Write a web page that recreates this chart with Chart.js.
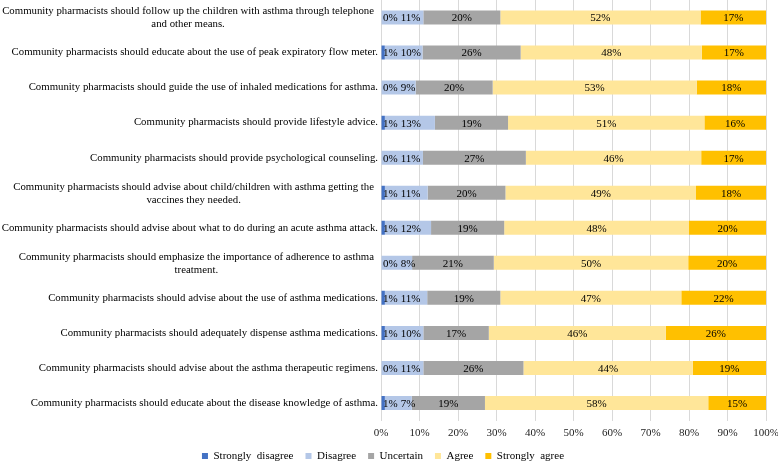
<!DOCTYPE html>
<html>
<head>
<meta charset="utf-8">
<script src="https://cdn.jsdelivr.net/npm/chart.js@4.4.1/dist/chart.umd.min.js"></script>
<style>
  html, body { margin: 0; padding: 0; background: #fff; }
  #wrap { width: 778px; height: 462px; position: relative; }
</style>
</head>
<body>
<div id="wrap"><canvas id="chart"></canvas></div>
<script>
// statements, top to bottom (two-line ones are wrapped like in the original)
const statements = [
  ['Community pharmacists should follow up the children with asthma through telephone', 'and other means.'],
  'Community pharmacists should educate about the use of peak expiratory flow meter.',
  'Community pharmacists should guide the use of inhaled medications for asthma.',
  'Community pharmacists should provide lifestyle advice.',
  'Community pharmacists should provide psychological counseling.',
  ['Community pharmacists should advise about child/children with asthma getting the', 'vaccines they needed.'],
  'Community pharmacists should advise about what to do during an acute asthma attack.',
  ['Community pharmacists should emphasize the importance of adherence to asthma', 'treatment.'],
  'Community pharmacists should advise about the use of asthma medications.',
  'Community pharmacists should adequately dispense asthma medications.',
  'Community pharmacists should advise about the asthma therapeutic regimens.',
  'Community pharmacists should educate about the disease knowledge of asthma.'
];

const seriesNames = ['Strongly  disagree', 'Disagree', 'Uncertain', 'Agree', 'Strongly  agree'];
const seriesColors = ['#4472C4', '#B4C7E7', '#A5A5A5', '#FFE699', '#FFC000'];

const stronglyDisagree = [0, 1, 0, 1, 0, 1, 1, 0, 1, 1, 0, 1];
const disagree         = [11, 10, 9, 13, 11, 11, 12, 8, 11, 10, 11, 7];
const uncertain        = [20, 26, 20, 19, 27, 20, 19, 21, 19, 17, 26, 19];
const agree            = [52, 48, 53, 51, 46, 49, 48, 50, 47, 46, 44, 58];
const stronglyAgree    = [17, 17, 18, 16, 17, 18, 20, 20, 22, 26, 19, 15];

const xTicks = [0, 10, 20, 30, 40, 50, 60, 70, 80, 90, 100];

const allSeries = [stronglyDisagree, disagree, uncertain, agree, stronglyAgree];

// 100% stacked, like the spreadsheet: each row is scaled to its own total
const rowTotals = statements.map((_, i) => allSeries.reduce((s, arr) => s + arr[i], 0));

const serif = "'Liberation Serif','Times New Roman',serif";

const datasets = allSeries.map((arr, k) => ({
  label: seriesNames[k],
  data: arr.map((v, i) => v / rowTotals[i] * 100),
  raw: arr,
  backgroundColor: seriesColors[k],
  borderWidth: 0,
  barPercentage: 0.8,
  categoryPercentage: 0.5
}));

new Chart(document.getElementById('chart'), {
  type: 'bar',
  data: { labels: statements.map((s, i) => String(i)), datasets },
  options: {
    indexAxis: 'y',
    responsive: true, maintainAspectRatio: false,
    animation: false,
    layout: { padding: { top: 0, right: 12, bottom: -9.5, left: 0 } },
    plugins: {
      tooltip: { enabled: false },
      legend: {
        position: 'bottom',
        labels: { font: { family: serif, size: 11 }, color: '#000', boxWidth: 6, boxHeight: 6, padding: 12 }
      }
    },
    scales: {
      x: {
        stacked: true, min: 0, max: 100,
        afterBuildTicks: s => { s.ticks = xTicks.map(v => ({ value: v })); },
        afterFit: s => { s.height = 18; s.paddingRight = 0; s.paddingLeft = 0; },
        ticks: { callback: v => v + '%', font: { family: serif, size: 11 }, color: '#222', padding: 6, maxRotation: 0 },
        grid: { color: '#D9D9D9', drawTicks: false, tickLength: 0 },
        border: { display: false }
      },
      y: {
        stacked: true,
        afterFit: s => { s.width = 381; },
        ticks: { display: false },
        grid: { display: false },
        border: { display: false }
      }
    }
  },
  plugins: [{
    id: 'rowLabels',
    afterDraw(chart) {
      const ctx = chart.ctx;
      const ys = chart.scales.y;
      ctx.save();
      ctx.font = "10.8px " + serif;
      ctx.fillStyle = '#000';
      ctx.textBaseline = 'middle';
      statements.forEach((s, i) => {
        const y = ys.getPixelForValue(i);
        if (Array.isArray(s)) {
          const xr = 374;
          const w1 = ctx.measureText(s[0]).width;
          ctx.textAlign = 'right';
          ctx.fillText(s[0], xr, y - 6);
          ctx.textAlign = 'center';
          ctx.fillText(s[1], xr - w1 / 2, y + 7);
        } else {
          ctx.textAlign = 'right';
          ctx.fillText(s, 378, y);
        }
      });
      ctx.restore();
    }
  }, {
    id: 'segLabels',
    afterDatasetsDraw(chart) {
      const ctx = chart.ctx;
      const left = chart.chartArea.left;
      ctx.save();
      ctx.font = "11px " + serif;
      ctx.fillStyle = '#000';
      ctx.textAlign = 'center'; ctx.textBaseline = 'middle';
      chart.data.labels.forEach((_, i) => {
        let prevRight = -Infinity;
        chart.data.datasets.forEach((ds, k) => {
          const bar = chart.getDatasetMeta(k).data[i];
          const txt = ds.raw[i] + '%';
          const w = ctx.measureText(txt).width;
          let cx = (bar.x + bar.base) / 2;
          cx = Math.max(cx, left + w / 2 + 2, prevRight + 3 + w / 2);
          ctx.fillText(txt, cx, bar.y + 1);
          prevRight = cx + w / 2;
        });
      });
      ctx.restore();
    }
  }]
});
</script>
</body>
</html>
